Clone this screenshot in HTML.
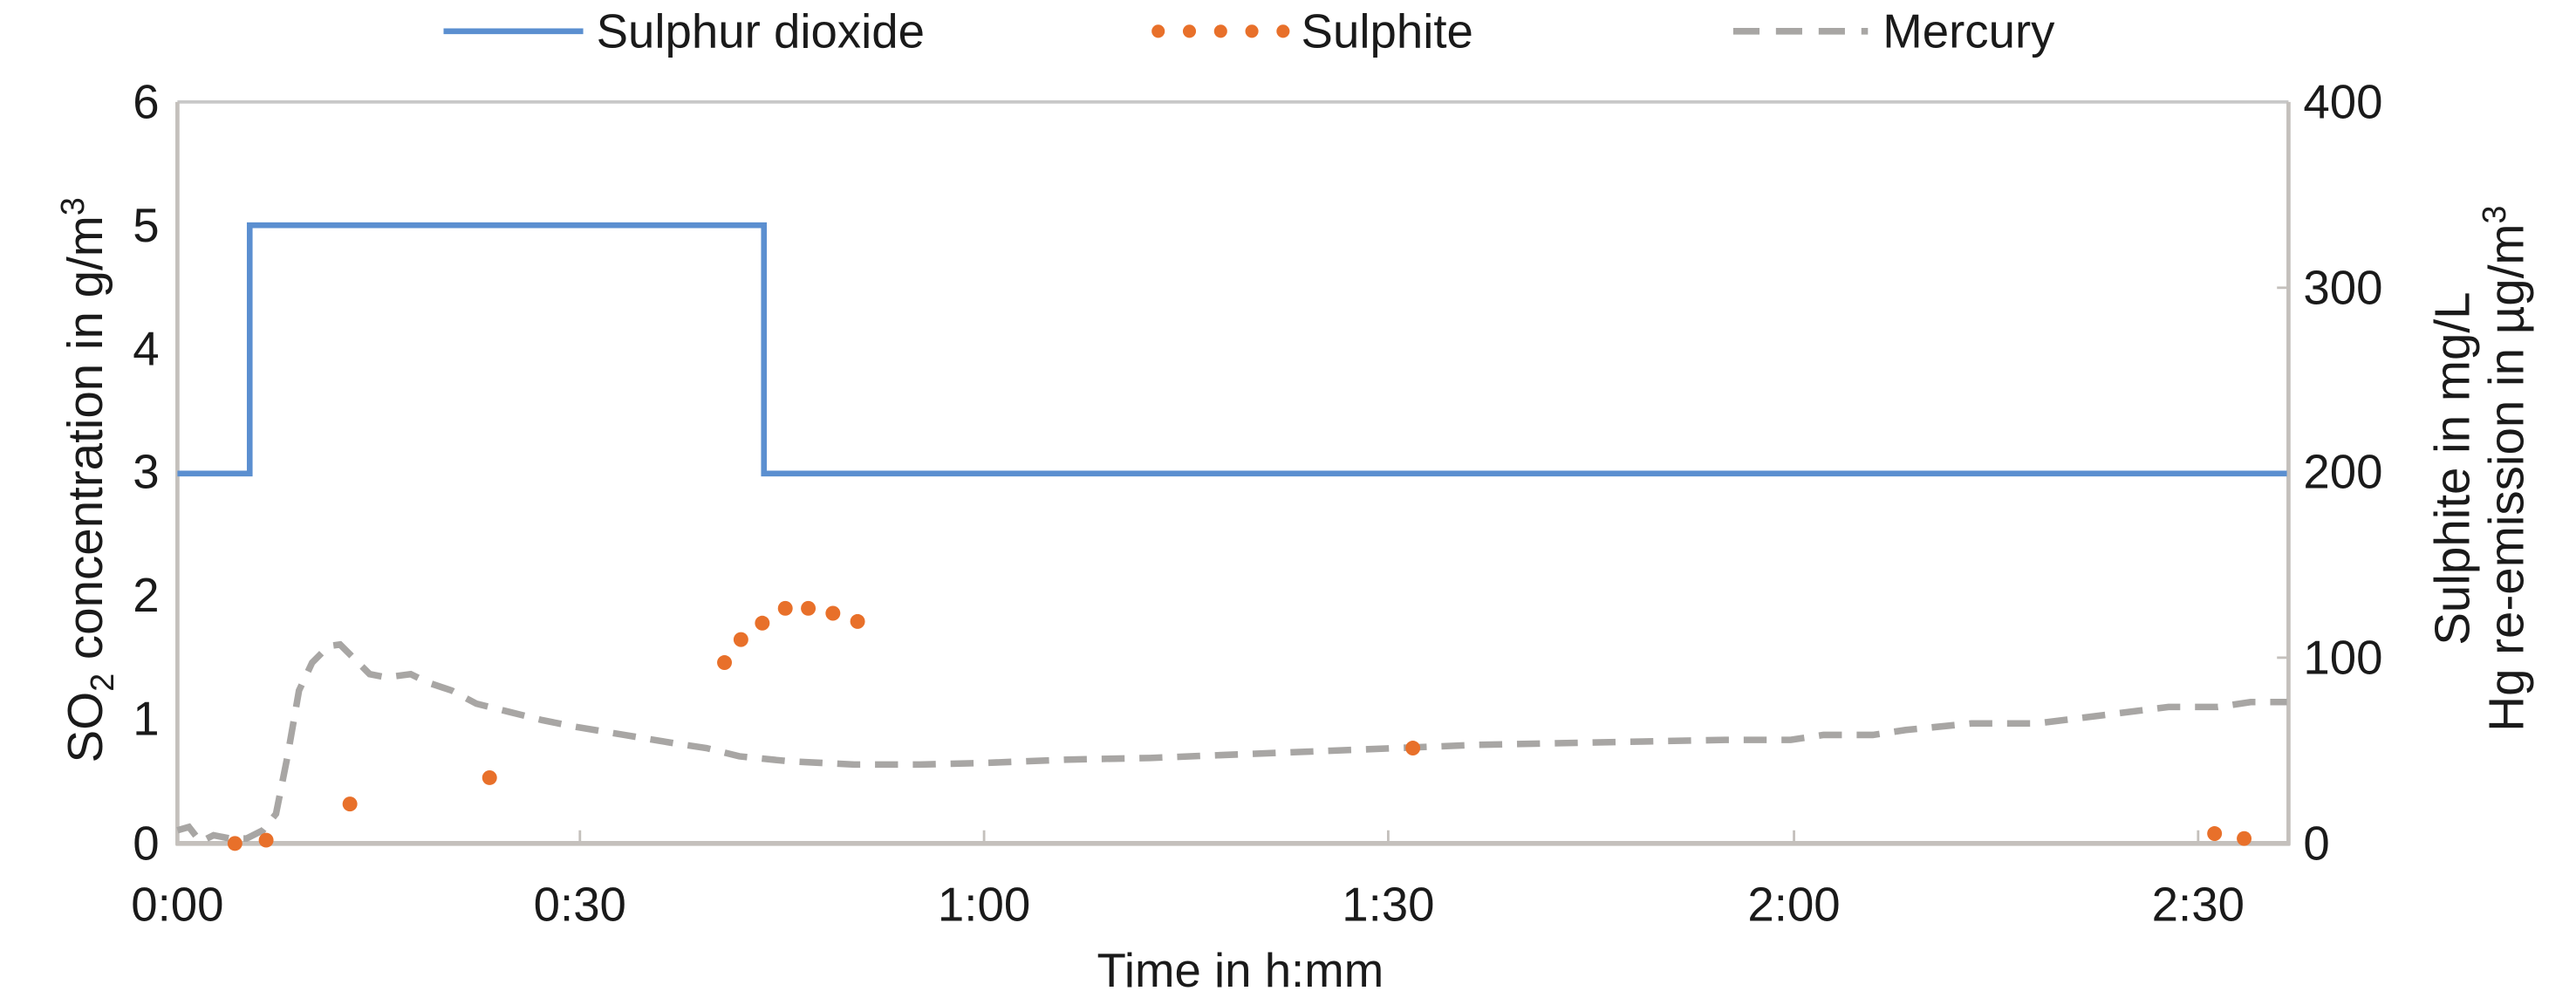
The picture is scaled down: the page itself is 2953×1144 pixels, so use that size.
<!DOCTYPE html>
<html><head><meta charset="utf-8"><style>html,body{margin:0;padding:0;background:#fff}svg{display:block}</style></head>
<body>
<svg width="2953" height="1144" viewBox="0 0 1568 607" preserveAspectRatio="none" xmlns="http://www.w3.org/2000/svg" font-family="Liberation Sans, Arial, sans-serif" fill="#1a1a1a">
<line x1="108" y1="62" x2="1393" y2="62" stroke="#c8c8c8" stroke-width="2"/>
<line x1="108" y1="62" x2="108" y2="514" stroke="#c4c0bc" stroke-width="2.5"/>
<line x1="1393" y1="62" x2="1393" y2="514" stroke="#c4c0bc" stroke-width="2.5"/>
<line x1="107" y1="513" x2="1394" y2="513" stroke="#c4c0bc" stroke-width="3"/>
<g stroke="#c4c0bc" stroke-width="1.5">
<line x1="353" y1="513" x2="353" y2="505"/><line x1="599" y1="513" x2="599" y2="505"/>
<line x1="845" y1="513" x2="845" y2="505"/><line x1="1092" y1="513" x2="1092" y2="505"/>
<line x1="1338" y1="513" x2="1338" y2="505"/>
<line x1="1386" y1="175" x2="1393" y2="175"/><line x1="1386" y1="287" x2="1393" y2="287"/><line x1="1386" y1="400" x2="1393" y2="400"/>
</g>
<g font-size="29" text-anchor="end">
<text x="97" y="72">6</text><text x="97" y="147">5</text><text x="97" y="222">4</text>
<text x="97" y="297">3</text><text x="97" y="372">2</text><text x="97" y="447">1</text><text x="97" y="523">0</text>
</g>
<g font-size="29" text-anchor="start">
<text x="1402" y="72">400</text><text x="1402" y="185">300</text><text x="1402" y="297">200</text>
<text x="1402" y="410">100</text><text x="1402" y="523">0</text>
</g>
<g font-size="29" text-anchor="middle">
<text x="108" y="560">0:00</text><text x="353" y="560">0:30</text><text x="599" y="560">1:00</text>
<text x="845" y="560">1:30</text><text x="1092" y="560">2:00</text><text x="1338" y="560">2:30</text>
<text x="755" y="600">Time in h:mm</text>
</g>
<text transform="translate(62,292) rotate(-90)" font-size="30" text-anchor="middle">SO<tspan font-size="20" dy="7">2</tspan><tspan dy="-7"> concentration in g/m</tspan><tspan font-size="20" dy="-11">3</tspan></text>
<text transform="translate(1503,285) rotate(-90)" font-size="30" text-anchor="middle">Sulphite in mg/L</text>
<text transform="translate(1536,285) rotate(-90)" font-size="30" text-anchor="middle">Hg re-emission in µg/m<tspan font-size="20" dy="-11">3</tspan></text>
<line x1="270" y1="19" x2="355" y2="19" stroke="#5b8fd0" stroke-width="3.5"/>
<text x="363" y="29" font-size="29">Sulphur dioxide</text>
<g fill="#e8702a"><circle cx="705" cy="19" r="4"/><circle cx="724" cy="19" r="4"/><circle cx="743" cy="19" r="4"/><circle cx="762" cy="19" r="4"/><circle cx="781" cy="19" r="4"/></g>
<text x="792" y="29" font-size="29">Sulphite</text>
<line x1="1055" y1="19" x2="1137" y2="19" stroke="#a8a6a4" stroke-width="4" stroke-dasharray="16,10"/>
<text x="1146" y="29" font-size="29">Mercury</text>
<polyline fill="none" stroke="#a8a6a4" stroke-width="4" stroke-dasharray="14,9" points="108,505 115,503 122,512 130,508 140,510 150,510 160,505 168,495 175,460 182,420 190,403 200,393 207,392 215,400 225,410 235,412 250,410 260,415 275,420 290,428 310,433 330,438 350,442 380,447 410,452 430,455 450,460 480,463 520,465 560,465 600,464 650,462 700,461 750,459 800,457 850,455 900,453 950,452 1000,451 1050,450 1090,450 1110,447 1140,447 1160,444 1200,440 1240,440 1280,435 1320,430 1350,430 1370,427 1392,427"/>
<polyline fill="none" stroke="#5b8fd0" stroke-width="3.5" points="108,288 152,288 152,137 465,137 465,288 1392,288"/>
<g fill="#e8702a">
<circle cx="143" cy="513" r="4.5"/><circle cx="162" cy="511" r="4.5"/><circle cx="213" cy="489" r="4.5"/>
<circle cx="298" cy="473" r="4.5"/><circle cx="441" cy="403" r="4.5"/><circle cx="451" cy="389" r="4.5"/>
<circle cx="464" cy="379" r="4.5"/><circle cx="478" cy="370" r="4.5"/><circle cx="492" cy="370" r="4.5"/>
<circle cx="507" cy="373" r="4.5"/><circle cx="522" cy="378" r="4.5"/><circle cx="860" cy="455" r="4.5"/>
<circle cx="1348" cy="507" r="4.5"/><circle cx="1366" cy="510" r="4.5"/>
</g>
</svg>
</body></html>
